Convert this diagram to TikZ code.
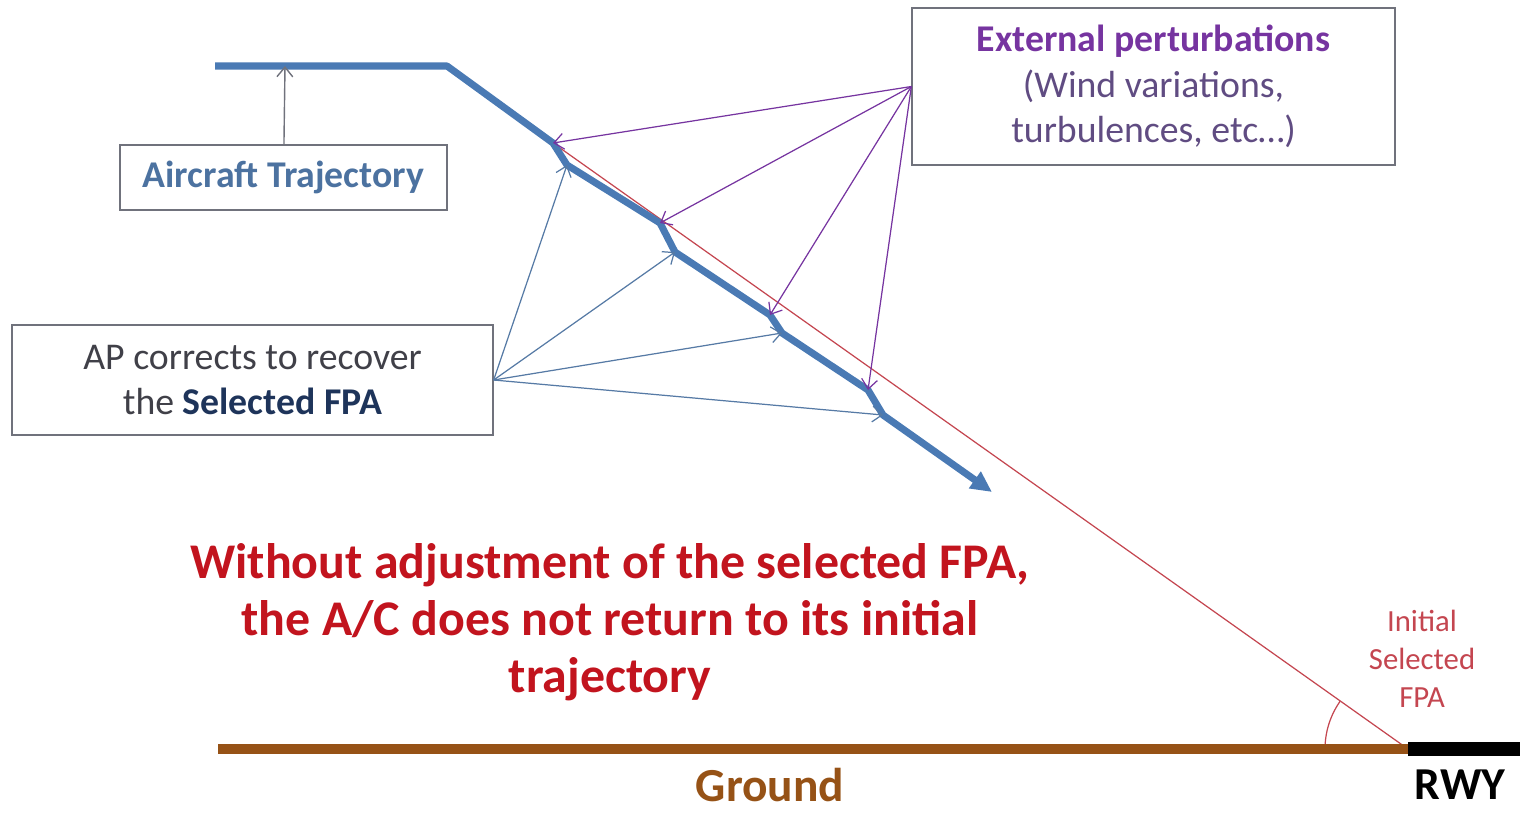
\documentclass[tikz,border=0pt]{standalone}
\usepackage{fontspec}
\setmainfont{Carlito}
\usepackage{tikz}
\usetikzlibrary{arrows.meta}

\definecolor{trajblue}{RGB}{74,122,180}
\definecolor{apblue}{RGB}{86,122,165}
\definecolor{acttext}{RGB}{76,114,160}
\definecolor{aptext}{RGB}{64,64,72}
\definecolor{apnavy}{RGB}{30,52,90}
\definecolor{pertpurple}{RGB}{118,52,160}
\definecolor{perttext}{RGB}{96,76,130}
\definecolor{fpared}{RGB}{196,70,80}
\definecolor{msgred}{RGB}{194,20,30}
\definecolor{groundbrown}{RGB}{150,82,22}
\definecolor{boxgray}{RGB}{112,114,124}

\begin{document}
\begin{tikzpicture}[x=0.02cm,y=0.02cm,>={Straight Barb[length=5.5pt,width=9pt]},
        box/.style={draw=boxgray,line width=0.8pt,inner sep=0pt,align=center},
        traj/.style={trajblue,line width=4pt,line join=round},
        corr/.style={->,apblue,line width=0.7pt},
        pert/.style={->,pertpurple,line width=0.7pt},
        big/.style={font=\fontsize{21.5}{26}\selectfont}]
            \useasboundingbox (0,0) rectangle (1520,-812);

            % text boxes
            \node   [box,big,minimum width=6.54cm,minimum height=1.3cm,text=acttext]   (act)  at (283.5,-177.5)  {\bfseries Aircraft Trajectory};
            \node   [box,big,minimum width=9.62cm,minimum height=2.2cm,text=aptext]    (ap)   at (252.5,-380)    {AP corrects to recover\\the \textbf{\color{apnavy}Selected FPA}};
            \node   [box,big,minimum width=9.66cm,minimum height=3.14cm,text=perttext] (ext)  at (1153.5,-86.5)  {\textbf{\color{pertpurple}External perturbations}\\(Wind variations,\\turbulences, etc…)};

            % trajectory points
            \coordinate (start)  at (215,-66);
            \coordinate (bend)   at (447,-66);
            \coordinate (actend) at (285,-66);
            \coordinate (p1) at (553,-143);  \coordinate (q1) at (567,-165);
            \coordinate (p2) at (660,-223);  \coordinate (q2) at (675,-252);
            \coordinate (p3) at (770,-315);  \coordinate (q3) at (782,-333);
            \coordinate (p4) at (868,-390);  \coordinate (q4) at (883,-415);
            \coordinate (tip)    at (992,-492);
            \coordinate (gnd)    at (218,-749);
            \coordinate (rwy)    at (1408,-749);
            \coordinate (rwyend) at (1520,-749);

            % initial selected FPA
            \draw   [fpared,line width=0.7pt] (p1) -- (rwy);
            \draw   [fpared,line width=0.7pt] (rwy) ++(180:83) arc [start angle=180,end angle=145,radius=83];

            % aircraft trajectory
            \draw   [traj,-{Triangle[length=12pt,width=11pt]}] (start) -- (bend) -- (p1) -- (q1) -- (p2) -- (q2) -- (p3) -- (q3) -- (p4) -- (q4) -- (tip);
            \draw   [->,boxgray,line width=0.8pt] (act) -- (actend);

            \path   (ext.west) edge [pert] (p1) edge [pert] (p2) edge [pert] (p3) edge [pert] (p4);
            \path   (ap.east)  edge [corr] (q1) edge [corr] (q2) edge [corr] (q3) edge [corr] (q4);

            % ground and runway
            \draw   [groundbrown,line width=5.7pt] (gnd) -- (rwy);
            \draw   [black,line width=8pt] (rwy) -- (rwyend);

            % labels
            \node   [text=msgred,align=center,font=\fontsize{28.4}{32.6}\selectfont\bfseries] (msg) at (610,-622) {Without adjustment of the selected FPA,\\the A/C does not return to its initial\\trajectory};
            \node   [text=fpared,align=center,font=\fontsize{17.5}{21.6}\selectfont] (fpa) at (1422,-659) {Initial\\Selected\\FPA};
            \node   [text=groundbrown,font=\fontsize{27}{32}\selectfont\bfseries] (gndlbl) at (770,-785) {Ground};
            \node   [font=\fontsize{26}{31}\selectfont\bfseries] (rwylbl) at (1460,-785) {RWY};
        \end{tikzpicture}
\end{document}
